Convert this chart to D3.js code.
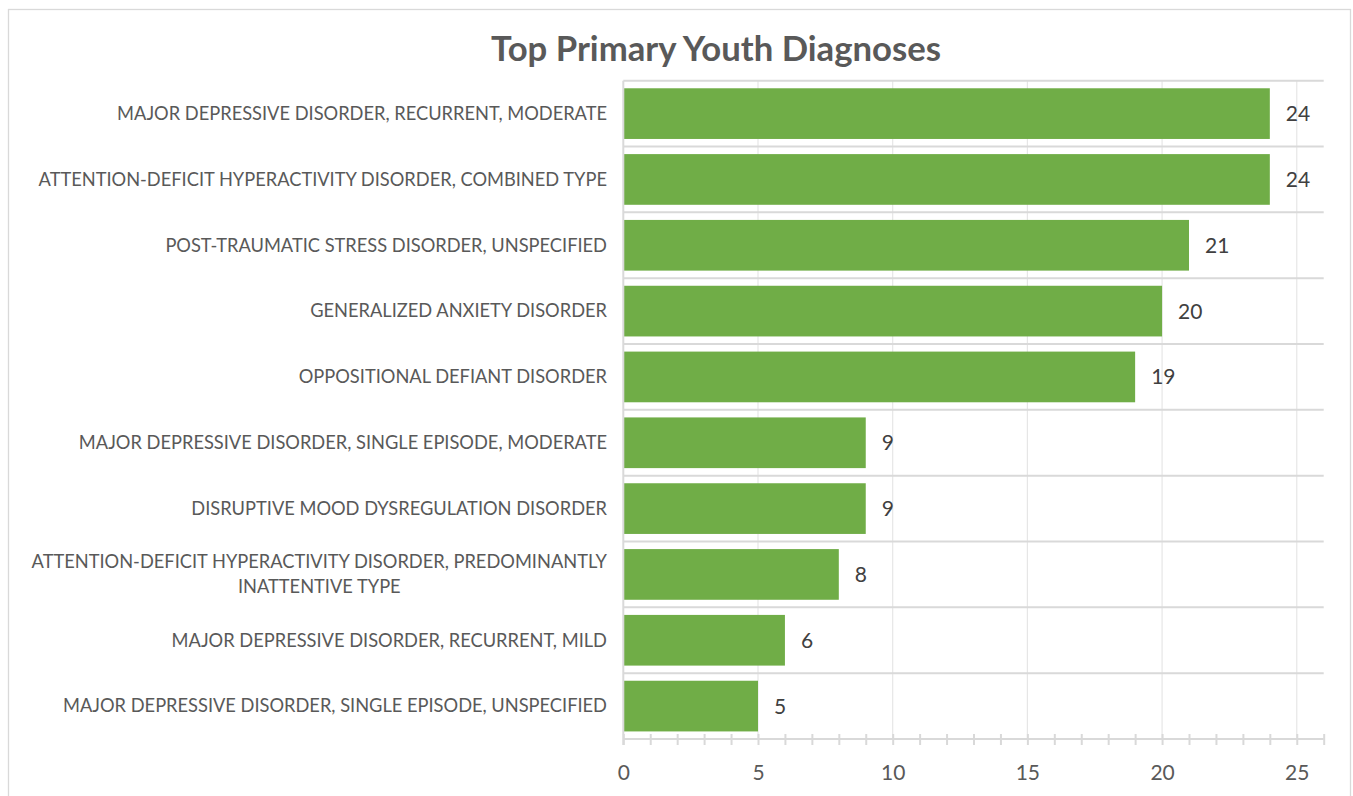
<!DOCTYPE html>
<html><head><meta charset="utf-8">
<script src="https://cdn.jsdelivr.net/npm/d3@7"></script>
<style>
html,body{margin:0;padding:0;background:#fff;}
svg{display:block;font-family:Lato,"Open Sans",sans-serif;}
</style></head>
<body>
<svg id="chart" width="1353" height="796"></svg>
<script>
const title = "Top Primary Youth Diagnoses";
const categories = [
  ["MAJOR DEPRESSIVE DISORDER, RECURRENT, MODERATE"],
  ["ATTENTION-DEFICIT HYPERACTIVITY DISORDER, COMBINED TYPE"],
  ["POST-TRAUMATIC STRESS DISORDER, UNSPECIFIED"],
  ["GENERALIZED ANXIETY DISORDER"],
  ["OPPOSITIONAL DEFIANT DISORDER"],
  ["MAJOR DEPRESSIVE DISORDER, SINGLE EPISODE, MODERATE"],
  ["DISRUPTIVE MOOD DYSREGULATION DISORDER"],
  ["ATTENTION-DEFICIT HYPERACTIVITY DISORDER, PREDOMINANTLY", "INATTENTIVE TYPE"],
  ["MAJOR DEPRESSIVE DISORDER, RECURRENT, MILD"],
  ["MAJOR DEPRESSIVE DISORDER, SINGLE EPISODE, UNSPECIFIED"]
];
const values = [24, 24, 21, 20, 19, 9, 9, 8, 6, 5];
const xMajorTicks = [0, 5, 10, 15, 20, 25];
const xMax = 26;

const svg = d3.select("#chart");
const plot = {left: 623.3, right: 1323.7, top: 80.7, bottom: 739};

// chart border
svg.append("rect").attr("x", 8.5).attr("y", 9.5).attr("width", 1342).attr("height", 800)
  .attr("fill", "#fff").attr("stroke", "#d9d9d9").attr("stroke-width", 1.3);

const x = d3.scaleLinear().domain([0, xMax]).range([plot.left, plot.right]);
const keys = categories.map((c, i) => i);
const y = d3.scaleBand().domain(keys).range([plot.top, plot.bottom]).paddingInner(0.23).paddingOuter(0.115);
const step = y.step();

// vertical major gridlines
svg.append("g").selectAll("line").data(xMajorTicks.filter(d => d > 0)).join("line")
  .attr("x1", d => x(d)).attr("x2", d => x(d))
  .attr("y1", plot.top).attr("y2", plot.bottom)
  .attr("stroke", "#e6e6e6").attr("stroke-width", 1.2);

// horizontal band separators
const bounds = d3.range(categories.length).map(i => plot.top + i * step);
svg.append("g").selectAll("line").data(bounds).join("line")
  .attr("x1", plot.left).attr("x2", plot.right)
  .attr("y1", d => d).attr("y2", d => d)
  .attr("stroke", "#d9d9d9").attr("stroke-width", 2);

// bars
svg.append("g").selectAll("rect").data(values).join("rect")
  .attr("x", x(0)).attr("y", (d, i) => y(i))
  .attr("width", d => x(d) - x(0)).attr("height", y.bandwidth())
  .attr("fill", "#70ad47");

// value labels
svg.append("g").selectAll("text").data(values).join("text")
  .attr("x", d => x(d) + 16).attr("y", (d, i) => y(i) + y.bandwidth() / 2)
  .attr("dy", "0.36em").attr("font-size", 21).attr("fill", "#404040")
  .text(d => d);

// x axis
const xAxis = d3.axisBottom(x).tickValues(d3.range(0, xMax + 1)).tickSize(6)
  .tickFormat(d => xMajorTicks.includes(d) ? d : "");
const gx = svg.append("g").attr("transform", `translate(0,${plot.bottom})`).call(xAxis);
gx.select(".domain").attr("stroke", "#d9d9d9").attr("stroke-width", 2).attr("d", `M${plot.left},0H${plot.right}`);
gx.selectAll(".tick line").attr("stroke", "#d9d9d9").attr("stroke-width", 2).attr("y1", -5).attr("y2", 6);
gx.selectAll(".tick text").attr("font-size", 21).attr("fill", "#595959").attr("y", 26)
  .attr("font-family", "Lato, 'Open Sans', sans-serif");

// y axis line
svg.append("line").attr("x1", plot.left).attr("x2", plot.left)
  .attr("y1", plot.top).attr("y2", plot.bottom + 6)
  .attr("stroke", "#d9d9d9").attr("stroke-width", 2);

// category labels
const labG = svg.append("g");
const labels = labG.selectAll("text").data(categories).join("text")
  .attr("fill", "#595959").attr("font-size", 16);
labels.each(function(lines, i) {
  const t = d3.select(this);
  const cy = y(i) + y.bandwidth() / 2;
  const lh = 25;
  lines.forEach((ln, j) => {
    t.append("tspan").attr("x", 0).attr("y", cy + (j - (lines.length - 1) / 2) * lh)
      .attr("dy", "0.35em").text(ln);
  });
});
// fit font size: first label should span ~490px
const w0 = labels.nodes()[0].getComputedTextLength();
const fs = 16 * 490 / w0;
labels.attr("font-size", fs);
labels.each(function(lines) {
  const t = d3.select(this);
  const tsp = t.selectAll("tspan").nodes();
  const widths = tsp.map(n => n.getComputedTextLength());
  const maxW = d3.max(widths);
  const right = 607;
  const center = right - maxW / 2;
  tsp.forEach((n) => d3.select(n).attr("x", center).attr("text-anchor", "middle"));
});

// title
const tt = svg.append("text").attr("x", 716).attr("y", 49).attr("dy", "0.35em")
  .attr("text-anchor", "middle").attr("font-weight", "bold").attr("font-size", 30)
  .attr("fill", "#595959").text(title);
const tw = tt.node().getComputedTextLength();
tt.attr("font-size", 30 * 450 / tw);
</script>
</body></html>
